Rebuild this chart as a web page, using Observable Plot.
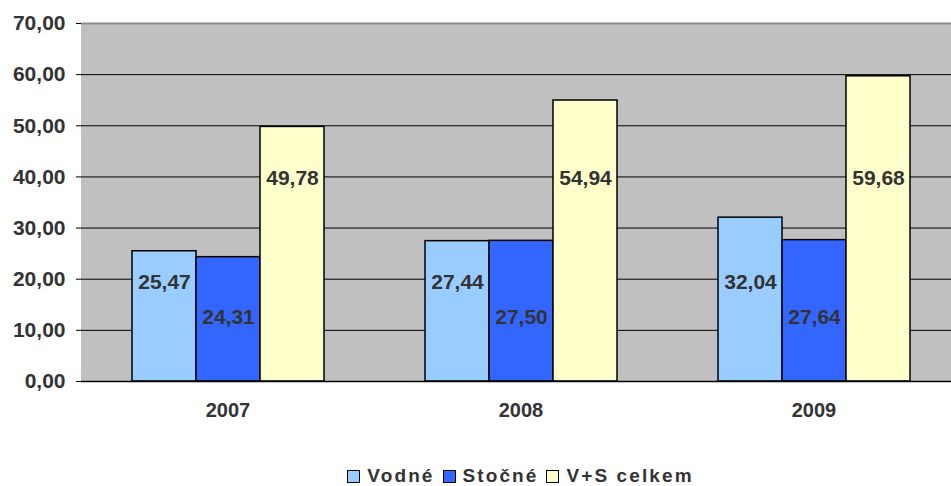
<!DOCTYPE html>
<html>
<head>
<meta charset="utf-8">
<script src="https://cdn.jsdelivr.net/npm/d3@7"></script>
<script src="https://cdn.jsdelivr.net/npm/@observablehq/plot@0.6"></script>
<style>
  body { margin: 0; background: #fff; font-family: "Liberation Sans", Arial, sans-serif; }
  #chart svg { display: block; overflow: hidden; }
  .legend { height: 46px; display: flex; justify-content: center; align-items: center; padding-top: 26px; box-sizing: border-box; padding-left: 90px;
            font-weight: bold; font-size: 19px; color: #333; letter-spacing: 2.1px; }
  .legend .item { display: flex; align-items: center; margin: 0 4px; }
  .legend .sw { width: 11px; height: 11px; border: 1px solid #000; margin-right: 7px; }
</style>
</head>
<body>
<div id="chart"></div>
<div class="legend" id="legend"></div>
<script>
const years = ["2007", "2008", "2009"];
const series = ["Vodné", "Stočné", "V+S celkem"];
const vodne = [25.47, 27.44, 32.04];
const stocne = [24.31, 27.50, 27.64];
const celkem = [49.78, 54.94, 59.68];
const colors = ["#99CCFF", "#3366FF", "#FFFFCC"];
const labelAt = [19.4, 12.5, 39.7];   // label height (in y units) per series
const yTicks = [0, 10, 20, 30, 40, 50, 60, 70];

const values = [vodne, stocne, celkem];
const rows = [];
years.forEach((yr, i) => series.forEach((s, j) => rows.push({year: yr, series: s, value: values[j][i], labelY: labelAt[j]})));

const fmt = v => d3.format(".2f")(v).replace(".", ",");

const chart = Plot.plot({
  width: 951,
  height: 440,
  marginLeft: 81,
  marginRight: -9,
  marginTop: 23,
  marginBottom: 59,
  style: {fontFamily: "'Liberation Sans', Arial, sans-serif", fontWeight: "bold", color: "#333", background: "#fff", overflow: "hidden"},
  fx: {domain: years, padding: 0, label: null, axis: null},
  x: {domain: series, paddingInner: 0, paddingOuter: 0.771, axis: null},
  y: {domain: [0, 70], label: null, axis: null},
  color: {domain: series, range: colors},
  marks: [
    Plot.frame({fill: "#C0C0C0", stroke: "#C0C0C0", strokeWidth: 1}),
    Plot.ruleY(yTicks.filter(t => t > 0 && t < 70), {stroke: "#000", strokeWidth: 1}),
    Plot.ruleY([70], {stroke: "#8c8c8c", strokeWidth: 2}),
    Plot.barY(rows, {fx: "year", x: "series", y: "value", fill: "series", stroke: "#000", strokeWidth: 1.5}),
    Plot.text(rows, {fx: "year", x: "series", y: "labelY", text: d => fmt(d.value), fontSize: 21, fontWeight: "bold", fill: "#333"}),
    Plot.ruleY([0], {stroke: "#000", strokeWidth: 1.5}),
    Plot.axisY(yTicks, {tickFormat: fmt, tickSize: 5, tickPadding: 11, fontSize: 21, fontWeight: "bold", fill: "#333", stroke: "#000", label: null}),
    Plot.ruleX([0], {frameAnchor: "left", stroke: "#000", strokeWidth: 1.5, facet: null}),
    Plot.axisFx({anchor: "bottom", tickSize: 0, tickPadding: 21, fontSize: 20, fontWeight: "bold", fill: "#333", label: null})
  ]
});
document.getElementById("chart").appendChild(chart);

const legend = document.getElementById("legend");
series.forEach((s, j) => {
  const it = document.createElement("div");
  it.className = "item";
  const sw = document.createElement("div");
  sw.className = "sw";
  sw.style.background = colors[j];
  it.appendChild(sw);
  const t = document.createElement("span");
  t.textContent = s;
  it.appendChild(t);
  legend.appendChild(it);
});
</script>
</body>
</html>
